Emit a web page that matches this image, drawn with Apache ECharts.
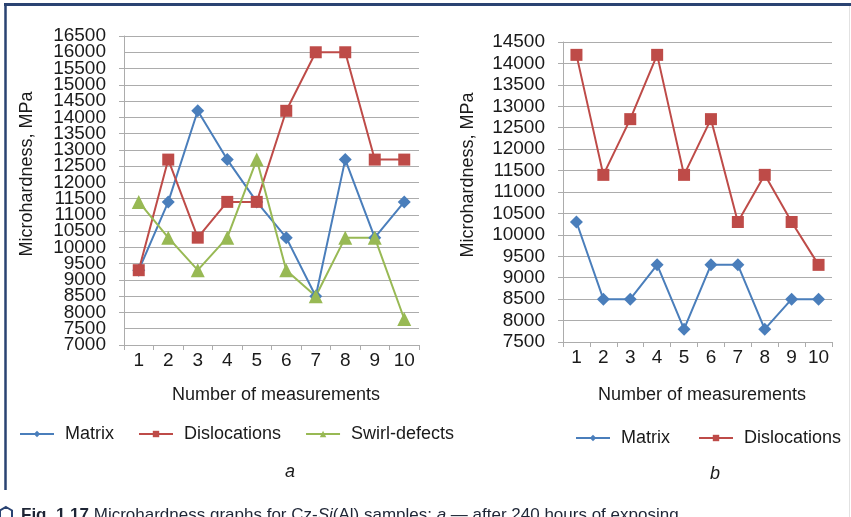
<!DOCTYPE html>
<html>
<head>
<meta charset="utf-8">
<script src="https://cdn.jsdelivr.net/npm/echarts@6/dist/echarts.min.js"></script>
<style>
html,body{margin:0;padding:0;background:#fff;}
#chart{width:851px;height:517px;}
</style>
</head>
<body>
<div id="chart"></div>
<script>
// ---- data ----
const categories = ['1','2','3','4','5','6','7','8','9','10'];
// chart a
const aMatrix       = [9300, 11400, 14200, 12700, 11400, 10300, 8500, 12700, 10300, 11400];
const aDislocations = [9300, 12700, 10300, 11400, 11400, 14200, 16000, 16000, 12700, 12700];
const aSwirl        = [11400, 10300, 9300, 10300, 12700, 9300, 8500, 10300, 10300, 7800];
// chart b
const bMatrix       = [10300, 8500, 8500, 9300, 7800, 9300, 9300, 7800, 8500, 8500];
const bDislocations = [14200, 11400, 12700, 14200, 11400, 12700, 10300, 11400, 10300, 9300];
// axis ranges
const aYMin = 7000, aYMax = 16500, yStep = 500;
const bYMin = 7500, bYMax = 14500;

const FONT = "'Liberation Sans', Arial, sans-serif";
const TXT = '#1a1a1a';
const GRID = '#acacac';
const BLUE = '#4a7ebb', RED = '#be4b48', GREEN = '#98b954';

function xAxisCfg(gi){
  return {
    type:'category', gridIndex:gi, data:categories, boundaryGap:true,
    axisLine:{show:true,lineStyle:{color:GRID,width:1}},
    axisTick:{show:true,length:5,lineStyle:{color:GRID}},
    axisLabel:{fontFamily:FONT,fontSize:19,color:TXT,margin:6,interval:0},
    splitLine:{show:false}
  };
}
function yAxisCfg(gi,min,max){
  return {
    type:'value', gridIndex:gi, position:'left', min:min, max:max, interval:yStep,
    axisLine:{show:true,lineStyle:{color:GRID,width:1}},
    axisTick:{show:true,length:5,lineStyle:{color:GRID}},
    axisLabel:{fontFamily:FONT,fontSize:19,color:TXT,margin:18,
      showMinLabel:true, showMaxLabel:true, hideOverlap:false,
      formatter:function(v){return String(v);}},
    splitLine:{show:true,lineStyle:{color:GRID,width:1}}
  };
}
// label-only overlay for chart a: shows the two labels next to min/max that
// ECharts drops when the crowded min/max labels are forced on
function yOverlayCfg(gi,min,max){
  const keep = [min + yStep, max - yStep];
  return {
    type:'value', gridIndex:gi, position:'left', offset:0, min:min, max:max, interval:yStep,
    axisLine:{show:false}, axisTick:{show:false}, splitLine:{show:false},
    axisLabel:{fontFamily:FONT,fontSize:19,color:TXT,margin:18,hideOverlap:false,
      formatter:function(v){return keep.indexOf(v) >= 0 ? String(v) : '';}}
  };
}
function lineSeries(name,data,color,symbol,size,xi){
  return {
    name:name, type:'line', data:data, xAxisIndex:xi, yAxisIndex:xi,
    symbol:symbol, symbolSize:size, showAllSymbol:true,
    lineStyle:{color:color,width:2}, itemStyle:{color:color},
    emphasis:{disabled:true}, animation:false
  };
}
function txt(x,y,text,opts){
  return Object.assign({type:'text',x:x,y:y,silent:true,
    style:Object.assign({text:text,font:'18px '+FONT,fill:TXT,textAlign:'center',textVerticalAlign:'middle'},opts||{})});
}

const legendText = {fontFamily:FONT,fontSize:18,color:TXT,padding:[0,0,0,6]};

const option = {
  animation:false,
  backgroundColor:'#ffffff',
  grid:[
    {left:124, top:36, width:295, height:309},
    {left:563, top:42, width:269, height:300}
  ],
  xAxis:[xAxisCfg(0), xAxisCfg(1)],
  yAxis:[yAxisCfg(0,aYMin,aYMax), yAxisCfg(1,bYMin,bYMax), yOverlayCfg(0,aYMin,aYMax)],
  legend:[
    {left:19, top:425, padding:0, itemWidth:34, itemHeight:8, itemGap:24, textStyle:legendText,
     data:['Matrix','Dislocations','Swirl-defects'], selectedMode:false},
    {left:575, top:429, padding:0, itemWidth:34, itemHeight:8, itemGap:28, textStyle:legendText,
     data:['Matrix','Dislocations'], selectedMode:false}
  ],
  series:[
    lineSeries('Matrix',aMatrix,BLUE,'diamond',13,0),
    lineSeries('Dislocations',aDislocations,RED,'rect',12,0),
    lineSeries('Swirl-defects',aSwirl,GREEN,'triangle',14,0),
    lineSeries('Matrix',bMatrix,BLUE,'diamond',13,1),
    lineSeries('Dislocations',bDislocations,RED,'rect',12,1)
  ],
  graphic:[
    // frame
    {type:'line',silent:true,shape:{x1:4,y1:4.5,x2:851,y2:4.5},style:{stroke:'#2a4372',lineWidth:3}},
    {type:'line',silent:true,shape:{x1:5.5,y1:3,x2:5.5,y2:490},style:{stroke:'#2a4372',lineWidth:2.5}},
    {type:'line',silent:true,shape:{x1:849.5,y1:6,x2:849.5,y2:517},style:{stroke:'#e2e2e2',lineWidth:1}},
    // axis titles
    txt(27,174,'Microhardness, MPa',{}),
    txt(468,175,'Microhardness, MPa',{}),
    txt(276,395,'Number of measurements',{}),
    txt(702,395,'Number of measurements',{}),
    txt(290,472,'a',{font:'italic 18px '+FONT}),
    txt(715,474,'b',{font:'italic 18px '+FONT}),
    // caption
    {type:'polygon',silent:true,shape:{points:[[6,507],[12,510.5],[12,517.5],[6,521],[0,517.5],[0,510.5]]},
     style:{fill:'none',stroke:'#2a4372',lineWidth:2}},
    {type:'text',x:21,y:507,silent:true,style:{
      text:'{b|Fig. 1.17} Microhardness graphs for Cz-{i|Si}(Al) samples: {i|a} — after 240 hours of exposing',
      font:'17px '+FONT, fill:'#1e2535', textVerticalAlign:'top',
      rich:{b:{fontWeight:'bold',fontSize:17,fontFamily:FONT,fill:'#1e2535'},
            i:{fontStyle:'italic',fontSize:17,fontFamily:FONT,fill:'#1e2535'}}
    }}
  ]
};
// rotate y-axis titles
option.graphic[3].rotation = Math.PI/2;
option.graphic[4].rotation = Math.PI/2;

const chart = echarts.init(document.getElementById('chart'),null,{renderer:'canvas'});
chart.setOption(option);
</script>
</body>
</html>
